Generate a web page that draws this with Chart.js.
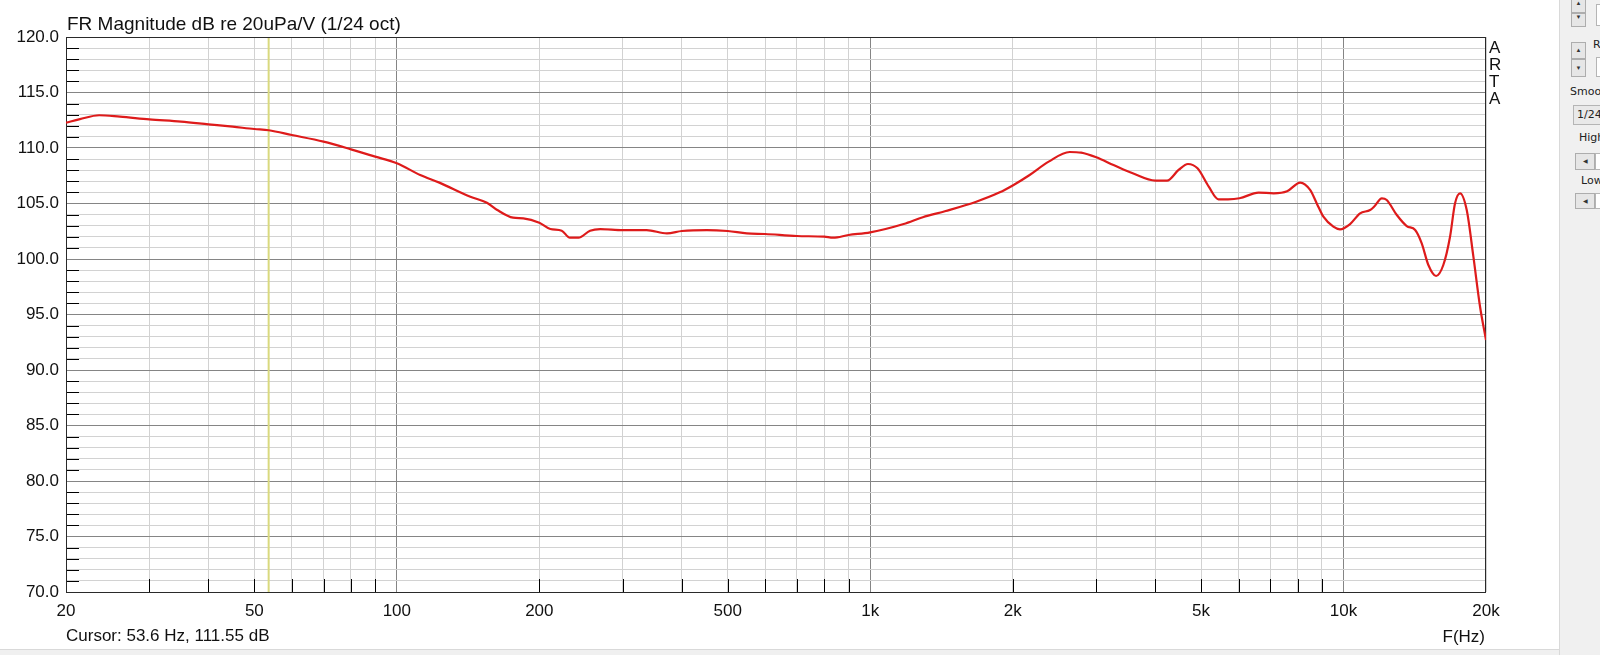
<!DOCTYPE html>
<html>
<head>
<meta charset="utf-8">
<script src="https://cdn.jsdelivr.net/npm/chart.js@4.4.1/dist/chart.umd.min.js"></script>
<style>
  body { margin: 0; width: 1600px; height: 655px; overflow: hidden; position: relative; background: #fff;
         font-family: "Liberation Sans", Arial, sans-serif; color: #111; }
  canvas { position: absolute; left: 0; top: 0; }
  .txt { position: absolute; white-space: nowrap; line-height: 1; }
  .panel { position: absolute; left: 1559px; top: 0; width: 41px; height: 655px; background: #f0f0f0; border-left: 1px solid #d9d9d9; }
  .strip { position: absolute; left: 0; top: 649px; width: 1559px; height: 6px; background: #f0f0f0; border-top: 1px solid #d9d9d9; }
  .ui { position: absolute; font-family: "DejaVu Sans", sans-serif; font-size: 11px; color: #222; white-space: nowrap; }
  .btn { position: absolute; box-sizing: border-box; background: #e6e6e6; border: 1px solid #adadad; font-size: 6px;
         text-align: center; color: #333; }
  .box { position: absolute; box-sizing: border-box; background: #fff; border: 1px solid #b5b5b5; }
</style>
</head>
<body>
<canvas id="fr" width="1600" height="655"></canvas>

<div class="txt" style="left:67px; top:14px; font-size:19px;">FR Magnitude dB re 20uPa/V (1/24 oct)</div>
<div class="txt" style="left:1489px; top:39px; font-size:17px; line-height:17.1px;">A<br>R<br>T<br>A</div>
<div class="txt" style="left:66px; top:627px; font-size:17px;">Cursor: 53.6 Hz, 111.55 dB</div>
<div class="txt" style="right:115px; top:628px; font-size:17px;">F(Hz)</div>

<div class="panel"></div>
<div class="strip"></div>
<div class="btn" style="left:1571px; top:-1px; width:15px; height:14px;">&#9650;</div>
<div class="btn" style="left:1571px; top:13px; width:15px; height:14px;">&#9660;</div>
<div class="box" style="left:1596px; top:4px; width:8px; height:22px;"></div>
<div class="btn" style="left:1571px; top:42px; width:15px; height:17px; line-height:15px;">&#9650;</div>
<div class="btn" style="left:1571px; top:59px; width:15px; height:18px; line-height:16px;">&#9660;</div>
<div class="ui" style="left:1593px; top:38px;">R</div>
<div class="box" style="left:1596px; top:57px; width:8px; height:20px;"></div>
<div class="ui" style="left:1570px; top:85px;">Smoot</div>
<div class="box" style="left:1573px; top:105px; width:30px; height:20px; background:#e9e9e9;"></div>
<div class="ui" style="left:1577px; top:108px;">1/24</div>
<div class="ui" style="left:1579px; top:131px;">High</div>
<div class="btn" style="left:1575px; top:153px; width:20px; height:17px; line-height:15px;">&#9664;</div>
<div class="box" style="left:1595px; top:153px; width:8px; height:17px;"></div>
<div class="ui" style="left:1581px; top:174px;">Low</div>
<div class="btn" style="left:1575px; top:193px; width:20px; height:16px; line-height:14px;">&#9664;</div>
<div class="box" style="left:1595px; top:193px; width:8px; height:16px;"></div>

<script>
let freqs = [20, 21.4, 23.5, 26, 30, 35, 40, 45, 50, 53.6, 60, 70, 80, 90, 100, 112, 123, 143, 155, 163, 176, 185,
             200, 211, 223, 232, 242, 256, 269, 300, 337, 372, 400, 452, 500, 549, 600, 700, 800, 835, 900, 1000,
             1177, 1292, 1444, 1675, 1873, 2009, 2172, 2383, 2639, 2791, 3004, 3266, 3586, 4004, 4237, 4483, 4692,
             4915, 5191, 5442, 5702, 6029, 6615, 7120, 7600, 8101, 8500, 8780, 9068, 9518, 9831, 10325, 10840,
             11380, 11600, 12050, 12340, 12960, 13600, 14170, 14630, 15110, 15690, 16250, 16790, 17200, 17630,
             18210, 18810, 19430, 20000];
let levels = [112.28, 112.6, 112.95, 112.82, 112.58, 112.37, 112.13, 111.92, 111.71, 111.6, 111.17, 110.57, 109.88,
              109.22, 108.62, 107.57, 106.88, 105.61, 105.07, 104.41, 103.72, 103.66, 103.27, 102.7, 102.55, 101.92,
              101.92, 102.55, 102.7, 102.61, 102.61, 102.31, 102.52, 102.61, 102.52, 102.31, 102.25, 102.07, 102.01,
              101.92, 102.16, 102.4, 103.15, 103.76, 104.32, 105.16, 105.98, 106.67, 107.57, 108.77, 109.64, 109.58,
              109.16, 108.47, 107.72, 107.06, 107.06, 108.02, 108.56, 108.17, 106.52, 105.38, 105.38, 105.47, 105.98,
              105.92, 106.1, 106.88, 106.22, 105.01, 103.81, 102.91, 102.67, 103.15, 104.11, 104.41, 104.71, 105.47,
              105.32, 103.96, 102.97, 102.61, 101.41, 99.46, 98.47, 99.46, 102.01, 105.01, 105.92, 104.41, 100.21,
              95.7, 92.7];

let freqTicks = [20, 30, 40, 50, 60, 70, 80, 90, 100, 200, 300, 400, 500, 600, 700, 800, 900,
                 1000, 2000, 3000, 4000, 5000, 6000, 7000, 8000, 9000, 10000, 20000];
let freqLabels = {20: "20", 50: "50", 100: "100", 200: "200", 500: "500", 1000: "1k",
                  2000: "2k", 5000: "5k", 10000: "10k", 20000: "20k"};
let cursorFreq = 53.6;

let lightGrid = "#d2d2d2";
let darkGrid = "#858585";

let isDecade = v => Math.abs(Math.log10(v) - Math.round(Math.log10(v))) < 1e-9;

let artaFrame = {
    id: "artaFrame",
    beforeDatasetsDraw(chart) {
        let ctx = chart.ctx;
        let a = chart.chartArea;
        let x = chart.scales.x, y = chart.scales.y;
        ctx.save();
        ctx.strokeStyle = "#000";
        ctx.lineWidth = 1;
        ctx.beginPath();
        for (let v = 71; v < 120; v++) {
            if (v % 5 === 0) continue;
            let py = Math.round(y.getPixelForValue(v)) + 0.5;
            ctx.moveTo(a.left, py);
            ctx.lineTo(a.left + 13, py);
        }
        freqTicks.forEach(f => {
            if (isDecade(f) || f === 20 || f === 20000) return;
            let px = Math.round(x.getPixelForValue(f)) + 0.5;
            ctx.moveTo(px, a.bottom);
            ctx.lineTo(px, a.bottom - 13);
        });
        ctx.stroke();

        let cx = x.getPixelForValue(cursorFreq);
        ctx.strokeStyle = "#d9d97e";
        ctx.lineWidth = 2;
        ctx.beginPath();
        ctx.moveTo(cx, a.top);
        ctx.lineTo(cx, a.bottom);
        ctx.stroke();

        ctx.strokeStyle = "#2a2a2a";
        ctx.lineWidth = 1;
        ctx.strokeRect(a.left + 0.5, a.top + 0.5, a.right - a.left - 1, a.bottom - a.top);
        ctx.restore();
    }
};

new Chart("fr", {
    type: "line",
    data: {
        datasets: [{
            data: freqs.map((f, i) => ({x: f, y: levels[i]})),
            borderColor: "#de1b1b",
            borderWidth: 2.2,
            pointRadius: 0,
            cubicInterpolationMode: "monotone"
        }]
    },
    options: {
        responsive: false,
        animation: false,
        events: [],
        layout: { padding: { top: 37, right: 114, left: 0, bottom: 0 } },
        plugins: { legend: { display: false }, tooltip: { enabled: false } },
        scales: {
            x: {
                type: "logarithmic",
                min: 20,
                max: 20000,
                afterBuildTicks: s => { s.ticks = freqTicks.map(v => ({ value: v })); },
                afterFit: s => { s.height = 63; },
                grid: {
                    drawTicks: false,
                    color: c => (c.tick && isDecade(c.tick.value)) ? darkGrid : lightGrid
                },
                border: { display: false },
                ticks: {
                    autoSkip: false,
                    maxRotation: 0,
                    padding: 9,
                    color: "#111",
                    font: { family: "'Liberation Sans', Arial, sans-serif", size: 17 },
                    callback: v => freqLabels[v] || ""
                }
            },
            y: {
                min: 70,
                max: 120,
                afterFit: s => { s.width = 66; },
                grid: {
                    drawTicks: false,
                    color: c => (c.tick && c.tick.value % 5 === 0) ? darkGrid : lightGrid
                },
                border: { display: false },
                ticks: {
                    stepSize: 1,
                    autoSkip: false,
                    padding: 7,
                    color: "#111",
                    font: { family: "'Liberation Sans', Arial, sans-serif", size: 17 },
                    callback: v => v % 5 === 0 ? v.toFixed(1) : ""
                }
            }
        }
    },
    plugins: [artaFrame]
});
</script>
</body>
</html>
